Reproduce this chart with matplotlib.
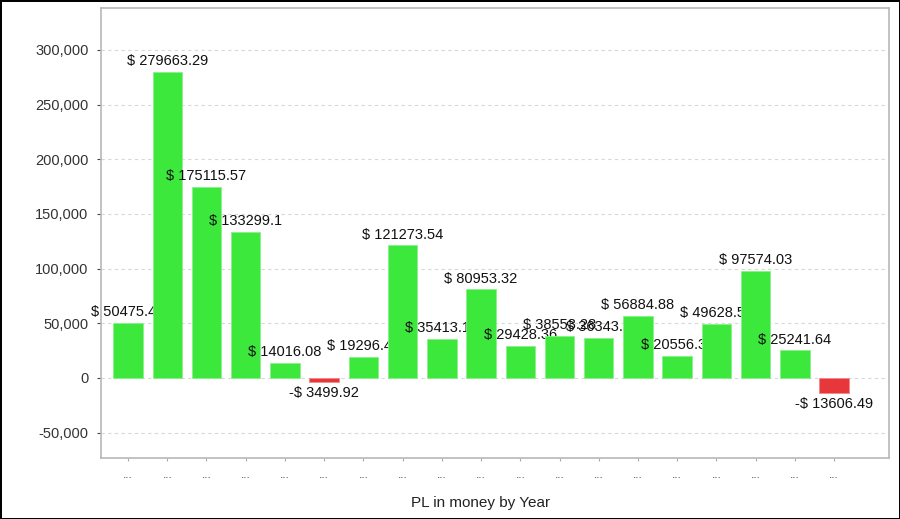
import matplotlib.pyplot as plt
from matplotlib.ticker import FuncFormatter

plt.rcParams['font.family'] = ['Liberation Sans', 'DejaVu Sans']

years = ["..."] * 19
pl = [50475.41, 279663.29, 175115.57, 133299.1, 14016.08, -3499.92, 19296.42,
      121273.54, 35413.15, 80953.32, 29428.36, 38553.28, 36343.5, 56884.88,
      20556.33, 49628.52, 97574.03, 25241.64, -13606.49]

fig = plt.figure(figsize=(9, 5.19), dpi=100)
fig.patch.set_edgecolor('black')
fig.patch.set_linewidth(2)
ax = fig.add_axes([0.1122, 0.1175, 0.8756, 0.8671])

x = list(range(len(pl)))
for i, v in enumerate(pl):
    col = '#3de83d' if v >= 0 else '#e8373a'
    ec = '#8af08a' if v >= 0 else '#f08a8a'
    ax.bar(i, v, width=0.75, color=col, edgecolor=ec, linewidth=0.6, zorder=3 + 2 * i)
    if v >= 0:
        txt = "$ %s" % ('%.2f' % v).rstrip('0').rstrip('.')
        ax.text(i, v + 3500, txt, ha='center', va='bottom', fontsize=10.5,
                color='#111111', zorder=4 + 2 * i)
    else:
        txt = "-$ %s" % ('%.2f' % -v).rstrip('0').rstrip('.')
        ax.text(i, v - 3500, txt, ha='center', va='top', fontsize=10.5,
                color='#111111', zorder=4 + 2 * i)

ax.set_xlim(-0.69, 19.4)
ax.set_ylim(-73200, 338400)
ax.set_xticks(x)
ax.set_xticklabels(years, fontsize=8.5, color='#444444')
ax.set_yticks([-50000, 0, 50000, 100000, 150000, 200000, 250000, 300000])
ax.yaxis.set_major_formatter(FuncFormatter(lambda v, p: '{:,.0f}'.format(v)))
ax.tick_params(axis='y', labelsize=10.5, colors='#444444', length=3, pad=6)
ax.tick_params(axis='x', length=2, pad=6, colors='#aaaaaa', labelcolor='#444444')
for lab in ax.get_yticklabels():
    lab.set_color('#333333')
ax.grid(axis='y', linestyle=(0, (3, 3)), color='#d8d8d8', linewidth=0.8, zorder=0)
ax.set_axisbelow(True)
for s in ax.spines.values():
    s.set_color('#b8b8b8')
    s.set_linewidth(1.2)

ax.set_xlabel("PL in money by Year", fontsize=11, color='#222222')
ax.xaxis.set_label_coords(0.482, -0.085)

fig.savefig('out.png', dpi=100, edgecolor=fig.get_edgecolor())
